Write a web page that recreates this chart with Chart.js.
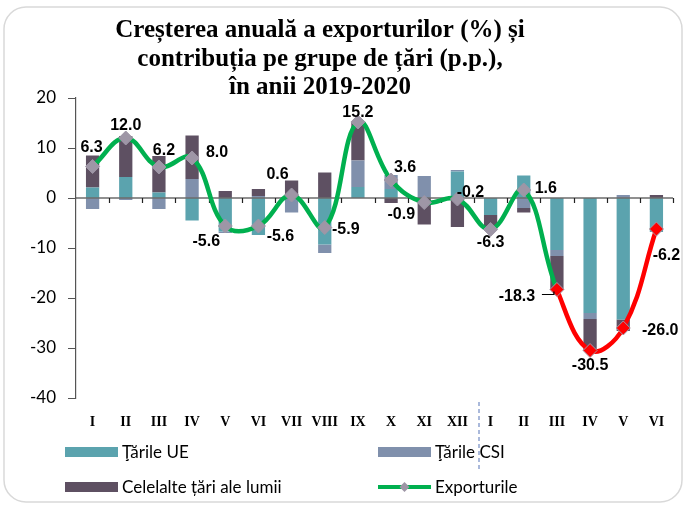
<!DOCTYPE html>
<html lang="ro">
<head>
<meta charset="utf-8">
<title>Creșterea anuală a exporturilor</title>
<script src="https://cdn.jsdelivr.net/npm/chart.js@4.4.1/dist/chart.umd.min.js"></script>
<style>
  html, body { margin: 0; padding: 0; background: #ffffff; }
  #wrap { width: 685px; height: 506px; position: relative; }
</style>
</head>
<body>
<div id="wrap"><canvas id="chart" width="685" height="506"></canvas></div>
<script>
// Months of 2019 (I–XII) followed by months of 2020 (I–VI)
const categories = ['I','II','III','IV','V','VI','VII','VIII','IX','X','XI','XII',
                    'I','II','III','IV','V','VI'];

// Contributions by group of countries, p.p.
const euContribution    = [2.1, 4.2, 1.1, -4.5, -6.7, -7.4, 0, -9.3, 2.2, 1.8, 0, 5.3,
                           -3.4, 4.5, -10.4, -23.0, -24.3, -6.8];
const cisContribution   = [-2.2, -0.4, -2.2, 3.8, -0.3, 0.4, -2.9, -1.7, 5.3, 2.8, 4.4, 0.3,
                           0, -2.0, -1.2, -1.2, 0.6, 0];
const otherContribution = [6.4, 8.2, 7.3, 8.7, 1.4, 1.4, 3.5, 5.1, 7.7, -1.0, -5.3, -5.8,
                           -2.9, -0.9, -6.7, -6.3, -2.3, 0.6];

// Annual growth of exports, %
const exportsGrowth = [6.3, 12.0, 6.2, 8.0, -5.6, -5.6, 0.6, -5.9, 15.2, 3.6, -0.9, -0.2,
                       -6.3, 1.6, -18.3, -30.5, -26.0, -6.2];

// Y axis range and step
const yMin = -40, yMax = 20, yStep = 10;

// From this point on the export line is drawn in red
const redFrom = 14;

// Where each value label sits relative to its point (dx, dy in px)
const labelOffsets = [[-1,-19],[0,-12],[5,-16],[25,-5],[-19,16],[22,11],[-14,-20],[21,2],
                      [0,-9],[14,-12],[-23,12],[13,-6],[0,13],[22,-1],[-40,7],[0,15],[37,3],[10,27]];

const titleLines = ['Creșterea anuală a exporturilor (%) și',
                    'contribuția pe grupe de țări (p.p.),',
                    'în anii 2019-2020'];

const COL_EU = '#5BA3AE';
const COL_CIS = '#8090AC';
const COL_OTHER = '#5E5062';
const COL_GREEN = '#00B04F';
const COL_RED = '#FF0000';
const COL_MARK = '#9E96A6';

const decoration = {
  id: 'decoration',
  beforeDraw(chart) {
    const c = chart.ctx;
    c.save();
    // rounded frame
    c.strokeStyle = '#D9D9D9';
    c.lineWidth = 1.5;
    const x0 = 4, y0 = 7, x1 = 682, y1 = 502, r = 22;
    c.beginPath();
    c.moveTo(x0 + r, y0);
    c.arcTo(x1, y0, x1, y1, r);
    c.arcTo(x1, y1, x0, y1, r);
    c.arcTo(x0, y1, x0, y0, r);
    c.arcTo(x0, y0, x1, y0, r);
    c.closePath();
    c.stroke();
    // title
    c.fillStyle = '#000';
    c.font = 'bold 25px "Liberation Serif", serif';
    c.textAlign = 'center';
    c.textBaseline = 'middle';
    const ty = [31, 60, 88];
    titleLines.forEach((t, i) => c.fillText(t, 320, ty[i]));
    c.restore();
  },
  beforeDatasetDraw(chart, args) {
    if (args.index !== 3) return;
    // zero line with tick marks at category boundaries
    const c = chart.ctx;
    const xs = chart.scales.x, ys = chart.scales.y;
    const y0 = ys.getPixelForValue(0);
    const area = chart.chartArea;
    c.save();
    c.strokeStyle = '#222';
    c.lineWidth = 1.2;
    c.beginPath();
    c.moveTo(area.left, y0);
    c.lineTo(area.right, y0);
    const step = xs.getPixelForValue(1) - xs.getPixelForValue(0);
    for (let i = 1; i <= categories.length; i++) {
      const x = Math.round(xs.getPixelForValue(i) - step / 2) + 0.5;
      c.moveTo(x, y0);
      c.lineTo(x, y0 + 5);
    }
    c.stroke();
    c.restore();
  },
  afterDraw(chart) {
    const c = chart.ctx;
    const xs = chart.scales.x;
    const meta = chart.getDatasetMeta(3);
    c.save();
    // separator between the two years
    const xSep = (xs.getPixelForValue(11) + xs.getPixelForValue(12)) / 2 + 5;
    c.strokeStyle = '#8EA3CF';
    c.lineWidth = 1.5;
    c.setLineDash([4, 3]);
    c.beginPath();
    c.moveTo(xSep, chart.chartArea.bottom + 4);
    c.lineTo(xSep, 470);
    c.stroke();
    c.setLineDash([]);

    // value labels
    c.fillStyle = '#000';
    c.font = 'bold 16px "Liberation Sans", Arial, sans-serif';
    c.textAlign = 'center';
    c.textBaseline = 'middle';
    meta.data.forEach((pt, i) => {
      const [dx, dy] = labelOffsets[i];
      c.fillText(exportsGrowth[i].toFixed(1), pt.x + dx, pt.y + dy);
    });
    // leader line for the -18.3 label
    const p = meta.data[14];
    c.strokeStyle = '#000';
    c.lineWidth = 1.2;
    c.beginPath();
    c.moveTo(p.x - 15, p.y + 5);
    c.lineTo(p.x - 3, p.y + 5);
    c.lineTo(p.x - 3, p.y + 2);
    c.stroke();

    // legend
    c.font = '17px Lato, "Open Sans", sans-serif';
    c.textAlign = 'left';
    const items = [
      { x: 65, y: 452, type: 'box', color: COL_EU, text: 'Ţările UE' },
      { x: 378, y: 452, type: 'box', color: COL_CIS, text: 'Ţările CSI' },
      { x: 65, y: 487, type: 'box', color: COL_OTHER, text: 'Celelalte țări ale lumii' },
      { x: 378, y: 487, type: 'line', color: COL_GREEN, text: 'Exporturile' }
    ];
    items.forEach(it => {
      if (it.type === 'box') {
        c.fillStyle = it.color;
        c.fillRect(it.x, it.y - 5, 53, 10);
      } else {
        c.strokeStyle = it.color;
        c.lineWidth = 4;
        c.beginPath();
        c.moveTo(it.x, it.y);
        c.lineTo(it.x + 53, it.y);
        c.stroke();
        c.fillStyle = COL_MARK;
        c.beginPath();
        const mx = it.x + 26.5, r = 5;
        c.moveTo(mx - r, it.y); c.lineTo(mx, it.y - r);
        c.lineTo(mx + r, it.y); c.lineTo(mx, it.y + r);
        c.closePath();
        c.fill();
      }
      c.fillStyle = '#000';
      c.fillText(it.text, it.x + 57, it.y + 1);
    });
    c.restore();
  }
};

const pointFill = exportsGrowth.map((v, i) => i >= redFrom ? COL_RED : COL_MARK);
const pointEdge = exportsGrowth.map((v, i) => i >= redFrom ? '#A09AA8' : COL_MARK);

new Chart(document.getElementById('chart'), {
  data: {
    labels: categories,
    datasets: [
      { type: 'bar', label: 'Ţările UE', data: euContribution, backgroundColor: COL_EU,
        order: 1, barPercentage: 0.4, categoryPercentage: 1 },
      { type: 'bar', label: 'Ţările CSI', data: cisContribution, backgroundColor: COL_CIS,
        order: 1, barPercentage: 0.4, categoryPercentage: 1 },
      { type: 'bar', label: 'Celelalte țări ale lumii', data: otherContribution, backgroundColor: COL_OTHER,
        order: 1, barPercentage: 0.4, categoryPercentage: 1 },
      { type: 'line', label: 'Exporturile', data: exportsGrowth, order: 0,
        borderColor: COL_GREEN, borderWidth: 4.5, tension: 0.4,
        segment: { borderColor: ctx => ctx.p0DataIndex >= redFrom ? COL_RED : COL_GREEN },
        pointStyle: 'rectRot', pointRadius: 7, pointBackgroundColor: pointFill,
        pointBorderColor: pointEdge, pointBorderWidth: 1, stack: 'line' }
    ]
  },
  options: {
    responsive: false,
    animation: false,
    layout: { padding: { left: 6, right: 12, top: 98, bottom: 0 } },
    plugins: { legend: { display: false }, title: { display: false }, tooltip: { enabled: false } },
    scales: {
      x: {
        stacked: true,
        grid: { display: false },
        border: { display: false },
        ticks: { color: '#000', padding: 8, maxRotation: 0, autoSkip: false,
                 font: { family: '"Liberation Serif", serif', size: 14, weight: 'bold' } },
        afterFit: s => { s.height = 108; }
      },
      y: {
        stacked: true,
        min: yMin, max: yMax,
        grid: { drawOnChartArea: false, drawTicks: true, tickLength: 8, color: '#555' },
        border: { display: true, color: '#555', width: 1.2 },
        ticks: { stepSize: yStep, color: '#000', padding: 12,
                 font: { family: 'Lato, "Open Sans", sans-serif', size: 17 } },
        afterFit: s => { s.width = 70; }
      }
    }
  },
  plugins: [decoration]
});
</script>
</body>
</html>
